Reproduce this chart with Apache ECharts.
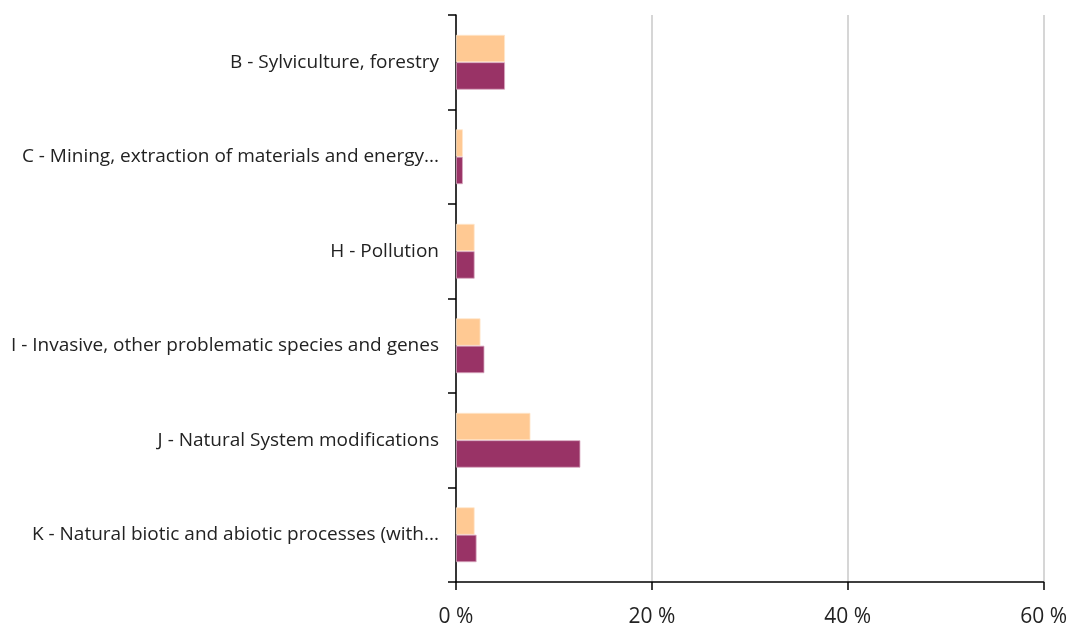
<!DOCTYPE html>
<html>
<head>
<meta charset="utf-8">
<script src="https://cdn.jsdelivr.net/npm/echarts@6/dist/echarts.min.js"></script>
<style>
  html, body { margin: 0; padding: 0; background: #ffffff; }
  #chart { width: 1070px; height: 628px; }
</style>
</head>
<body>
<div id="chart"></div>
<script>
// Threat categories (top to bottom)
const categories = [
  'B - Sylviculture, forestry',
  'C - Mining, extraction of materials and energy...',
  'H - Pollution',
  'I - Invasive, other problematic species and genes',
  'J - Natural System modifications',
  'K - Natural biotic and abiotic processes (with...'
];
// Share of reports per category, in percent
const series1Values = [5.0, 0.7, 1.9, 2.5, 7.6, 1.9];
const series2Values = [5.0, 0.7, 1.9, 2.9, 12.7, 2.1];
// Value axis ticks
const xTicks = [0, 20, 40, 60];

const labelFont = "'Open Sans', 'Noto Sans', sans-serif";

const chart = echarts.init(document.getElementById('chart'), null, { renderer: 'canvas' });
chart.setOption({
  animation: false,
  backgroundColor: '#ffffff',
  grid: { left: 456, right: 26, top: 15, bottom: 45, containLabel: false },
  xAxis: {
    type: 'value',
    min: xTicks[0],
    max: xTicks[xTicks.length - 1],
    interval: xTicks[1] - xTicks[0],
    axisLine: { show: true, lineStyle: { color: '#000000', width: 1.5 } },
    axisTick: { show: true, inside: false, length: 8, lineStyle: { color: '#000000', width: 1.5 } },
    axisLabel: {
      margin: 25,
      formatter: '{value} %',
      color: '#222222',
      fontFamily: labelFont,
      fontSize: 21
    },
    splitLine: { show: true, lineStyle: { color: '#c8c8c8', width: 1.5 } }
  },
  yAxis: {
    type: 'category',
    data: categories,
    inverse: true,
    axisLine: { show: true, lineStyle: { color: '#000000', width: 1.5 } },
    axisTick: { show: true, inside: false, length: 8, lineStyle: { color: '#000000', width: 1.5 } },
    axisLabel: {
      margin: 17,
      color: '#222222',
      fontFamily: labelFont,
      fontSize: 19
    },
    splitLine: { show: false }
  },
  series: [
    {
      name: 'Series 1',
      type: 'bar',
      data: series1Values,
      barGap: '0%',
      barCategoryGap: '42%',
      itemStyle: { color: '#ffc993', borderColor: '#ffe6cc', borderWidth: 0.8 }
    },
    {
      name: 'Series 2',
      type: 'bar',
      data: series2Values,
      barGap: '0%',
      barCategoryGap: '42%',
      itemStyle: { color: '#993366', borderColor: '#d8a8c0', borderWidth: 0.8 }
    }
  ]
});
</script>
</body>
</html>
